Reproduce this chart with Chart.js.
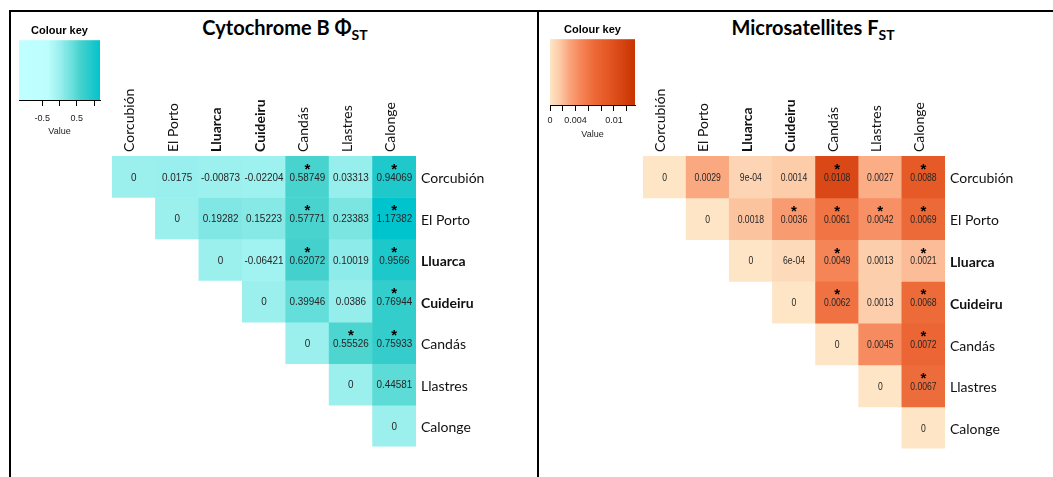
<!DOCTYPE html>
<html>
<head>
<meta charset="utf-8">
<script src="https://cdn.jsdelivr.net/npm/chart.js@4"></script>
<style>
    body { margin: 0; background: #fff; width: 1053px; height: 477px; overflow: hidden; position: relative; }
    .box { position: absolute; }
    .line { position: absolute; background: #000; }
    .title { position: absolute; font-family: Lato, "Open Sans", sans-serif; font-weight: bold; font-size: 20px; color: #000; text-align: center; white-space: nowrap; }
    .title sub { font-size: 14px; vertical-align: -5px; line-height: 0; }
</style>
</head>
<body>

<!-- 패널 테두리 -->
<div class="line" style="left:9px; top:10px; width:1044px; height:2px;"></div>
<div class="line" style="left:9px; top:10px; width:2px; height:467px;"></div>
<div class="line" style="left:537px; top:10px; width:2px; height:467px;"></div>

<div class="title" style="left:185px; top:15px; width:200px;">Cytochrome B &Phi;<sub>ST</sub></div>
<div class="title" style="left:713px; top:15px; width:200px;">Microsatellites F<sub>ST</sub></div>

<div class="box" style="left:10px; top:24px; width:100px; height:116px;"><canvas id="cytKey"></canvas></div>
<div class="box" style="left:540px; top:23px; width:100px; height:120px;"><canvas id="msatKey"></canvas></div>

<div class="box" style="left:112px; top:56px; width:404px; height:404px;"><canvas id="cytHeat"></canvas></div>
<div class="box" style="left:643px; top:56px; width:402px; height:406px;"><canvas id="msatHeat"></canvas></div>

<script>
// 지역 이름
const sites = ['Corcubión', 'El Porto', 'Lluarca', 'Cuideiru', 'Candás', 'Llastres', 'Calonge'];
const boldSites = ['Lluarca', 'Cuideiru'];

// Cytochrome B PhiST (상삼각 행렬, 행 = sites 순서)
const cytRows = [
    [0, 0.0175, -0.00873, -0.02204, 0.58749, 0.03313, 0.94069],
    [null, 0, 0.19282, 0.15223, 0.57771, 0.23383, 1.17382],
    [null, null, 0, -0.06421, 0.62072, 0.10019, 0.9566],
    [null, null, null, 0, 0.39946, 0.0386, 0.76944],
    [null, null, null, null, 0, 0.55526, 0.75933],
    [null, null, null, null, null, 0, 0.44581],
    [null, null, null, null, null, null, 0]
];
// 유의성 표시 (*)
const cytSig = [
    [0, 0, 0, 0, 1, 0, 1],
    [0, 0, 0, 0, 1, 0, 1],
    [0, 0, 0, 0, 1, 0, 1],
    [0, 0, 0, 0, 0, 0, 1],
    [0, 0, 0, 0, 0, 1, 1],
    [0, 0, 0, 0, 0, 0, 0],
    [0, 0, 0, 0, 0, 0, 0]
];

// Microsatellites FST
const msatRows = [
    [0, 0.0029, 0.0009, 0.0014, 0.0108, 0.0027, 0.0088],
    [null, 0, 0.0018, 0.0036, 0.0061, 0.0042, 0.0069],
    [null, null, 0, 0.0006, 0.0049, 0.0013, 0.0021],
    [null, null, null, 0, 0.0062, 0.0013, 0.0068],
    [null, null, null, null, 0, 0.0045, 0.0072],
    [null, null, null, null, null, 0, 0.0067],
    [null, null, null, null, null, null, 0]
];
const msatSig = [
    [0, 0, 0, 0, 1, 0, 1],
    [0, 0, 0, 1, 1, 1, 1],
    [0, 0, 0, 0, 1, 0, 1],
    [0, 0, 0, 0, 1, 0, 1],
    [0, 0, 0, 0, 0, 0, 1],
    [0, 0, 0, 0, 0, 0, 1],
    [0, 0, 0, 0, 0, 0, 0]
];

// 컬러키 범위와 눈금
const cytKeyRange = [-1.17382, 1.17382];
const cytKeyTicks = [-0.5, 0, 0.5, 1];
const cytKeyLabels = ['-0.5', '', '0.5', ''];
const msatKeyRange = [0, 0.0133];
const msatKeyTicks = [0, 0.002, 0.004, 0.006, 0.008, 0.01, 0.012];
const msatKeyLabels = ['0', '', '0.004', '', '', '0.01', ''];

// 색상 팔레트 (값, rgb)
const cytPalette = [
    [-1.17382, [192, 255, 255]], [-0.35, [188, 254, 254]], [0, [155, 240, 238]],
    [0.4, [100, 222, 218]], [0.6, [70, 210, 205]], [0.95, [30, 200, 203]], [1.17382, [0, 196, 205]]
];
const msatPalette = [
    [0, [253, 229, 198]], [0.0015, [253, 203, 168]], [0.003, [250, 165, 125]],
    [0.005, [245, 130, 85]], [0.007, [236, 104, 54]], [0.009, [228, 88, 36]],
    [0.0108, [217, 72, 22]], [0.0133, [200, 52, 0]]
];

function colourFor(palette, v) {
    if (v <= palette[0][0]) return 'rgb(' + palette[0][1].join(',') + ')';
    for (let i = 1; i < palette.length; i++) {
        if (v <= palette[i][0]) {
            const a = palette[i - 1], b = palette[i];
            const t = (v - a[0]) / (b[0] - a[0]);
            const c = a[1].map((x, k) => Math.round(x + (b[1][k] - x) * t));
            return 'rgb(' + c.join(',') + ')';
        }
    }
    return 'rgb(' + palette[palette.length - 1][1].join(',') + ')';
}

// R 스타일 숫자 표기 (9e-04 등)
function fmt(v) {
    if (v !== 0 && Math.abs(v) < 0.001) {
        let s = v.toExponential();
        return s.replace(/e([+-])(\d)$/, 'e$10$2');
    }
    return String(v);
}

function siteFont(name, size) {
    return { family: 'Lato, "Open Sans", sans-serif', size: size, weight: boldSites.includes(name) ? 'bold' : 'normal' };
}

// 셀 안 텍스트 (좁은 글꼴처럼 가로로 살짝 압축)
const cellText = {
    id: 'cellText',
    afterDatasetsDraw(chart, args, opts) {
        const ctx = chart.ctx;
        chart.data.datasets.forEach((ds, i) => {
            const meta = chart.getDatasetMeta(i);
            meta.data.forEach((bar, j) => {
                const v = opts.rows[i][j];
                if (v === null || v === undefined) return;
                const cy = (bar.y + bar.base) / 2;
                ctx.save();
                ctx.translate(bar.x, cy);
                ctx.textAlign = 'center';
                ctx.textBaseline = 'middle';
                if (opts.sig[i][j]) {
                    ctx.fillStyle = '#000';
                    ctx.font = 'bold 15px "Liberation Sans", Arial, sans-serif';
                    ctx.fillText('*', 0, -7);
                }
                ctx.scale(opts.squeeze, 1);
                ctx.fillStyle = '#262626';
                ctx.font = opts.size + 'px "Liberation Sans", Arial, sans-serif';
                ctx.fillText(fmt(v), 0, 1);
                ctx.restore();
            });
        });
    }
};

function makeHeatmap(el, rows, sig, palette, textSize, squeeze) {
    const datasets = rows.map((row, i) => ({
        data: row.map(v => v === null ? null : [i - 0.5, i + 0.5]),
        backgroundColor: ctx => colourFor(palette, rows[ctx.datasetIndex][ctx.dataIndex]),
        borderWidth: 0,
        barPercentage: 1,
        categoryPercentage: 1,
        grouped: false
    }));
    return new Chart(document.getElementById(el), {
        type: 'bar',
        data: { labels: sites, datasets: datasets },
        plugins: [cellText],
        options: {
            responsive: true,
            maintainAspectRatio: false,
            animation: false,
            layout: { padding: 0 },
            plugins: {
                legend: { display: false },
                tooltip: { enabled: false },
                cellText: { rows: rows, sig: sig, size: textSize, squeeze: squeeze }
            },
            scales: {
                x: {
                    position: 'top',
                    grid: { display: false, drawTicks: false },
                    border: { display: false },
                    ticks: {
                        autoSkip: false,
                        minRotation: 90,
                        maxRotation: 90,
                        padding: 4,
                        labelOffset: 13,
                        color: '#111',
                        font: ctx => siteFont(sites[ctx.index], 14)
                    },
                    afterFit: s => { s.height = 100; }
                },
                y: {
                    position: 'right',
                    reverse: true,
                    min: -0.5,
                    max: 6.5,
                    grid: { display: false, drawTicks: false },
                    border: { display: false },
                    afterBuildTicks: axis => { axis.ticks = sites.map((s, i) => ({ value: i })); },
                    ticks: {
                        padding: 5,
                        labelOffset: 2,
                        color: '#111',
                        callback: v => sites[v],
                        font: ctx => siteFont(sites[ctx.index], 14)
                    },
                    afterFit: s => { s.width = 100; }
                }
            }
        }
    });
}

// 컬러키 그라데이션 (x 스케일 기준)
const keyGradient = {
    id: 'keyGradient',
    beforeDatasetsDraw(chart, args, opts) {
        const ctx = chart.ctx;
        const area = chart.chartArea;
        const xs = chart.scales.x;
        for (let px = Math.floor(area.left); px < Math.ceil(area.right); px++) {
            ctx.fillStyle = colourFor(opts.palette, xs.getValueForPixel(px + 0.5));
            ctx.fillRect(px, area.top, 1, area.bottom - area.top);
        }
    }
};

function makeKey(el, range, ticks, labels, palette, axisHeight, labelPad, padLeft, padRight) {
    return new Chart(document.getElementById(el), {
        type: 'scatter',
        data: { datasets: [{ data: [] }] },
        plugins: [keyGradient],
        options: {
            responsive: true,
            maintainAspectRatio: false,
            animation: false,
            layout: { padding: { left: padLeft, right: padRight, top: 0, bottom: 0 } },
            plugins: {
                legend: { display: false },
                tooltip: { enabled: false },
                keyGradient: { palette: palette },
                title: {
                    display: true,
                    text: 'Colour key',
                    color: '#000',
                    font: { family: '"Liberation Sans", Arial, sans-serif', size: 11, weight: 'bold' },
                    padding: { top: 0, bottom: 3 }
                }
            },
            scales: {
                x: {
                    type: 'linear',
                    min: range[0],
                    max: range[1],
                    grid: { drawOnChartArea: false, drawTicks: true, tickLength: 6, color: '#000' },
                    border: { display: true, color: '#000', width: 1 },
                    afterBuildTicks: axis => { axis.ticks = ticks.map(v => ({ value: v })); },
                    ticks: {
                        autoSkip: false,
                        maxRotation: 0,
                        padding: labelPad,
                        color: '#222',
                        font: { family: '"Liberation Sans", Arial, sans-serif', size: 9 },
                        callback: (v, i) => labels[i]
                    },
                    title: {
                        display: true,
                        text: 'Value',
                        color: '#222',
                        font: { family: '"Liberation Sans", Arial, sans-serif', size: 9 },
                        padding: { top: 0, bottom: 3 }
                    },
                    afterFit: s => { s.height = axisHeight; }
                },
                y: { display: false, min: 0, max: 1 }
            }
        }
    });
}

makeHeatmap('cytHeat', cytRows, cytSig, cytPalette, 11, 0.9);
makeHeatmap('msatHeat', msatRows, msatSig, msatPalette, 10.5, 0.82);
makeKey('cytKey', cytKeyRange, cytKeyTicks, cytKeyLabels, cytPalette, 40, 7, 9, 10);
makeKey('msatKey', msatKeyRange, msatKeyTicks, msatKeyLabels, msatPalette, 38, 4, 10, 5);
</script>
</body>
</html>
